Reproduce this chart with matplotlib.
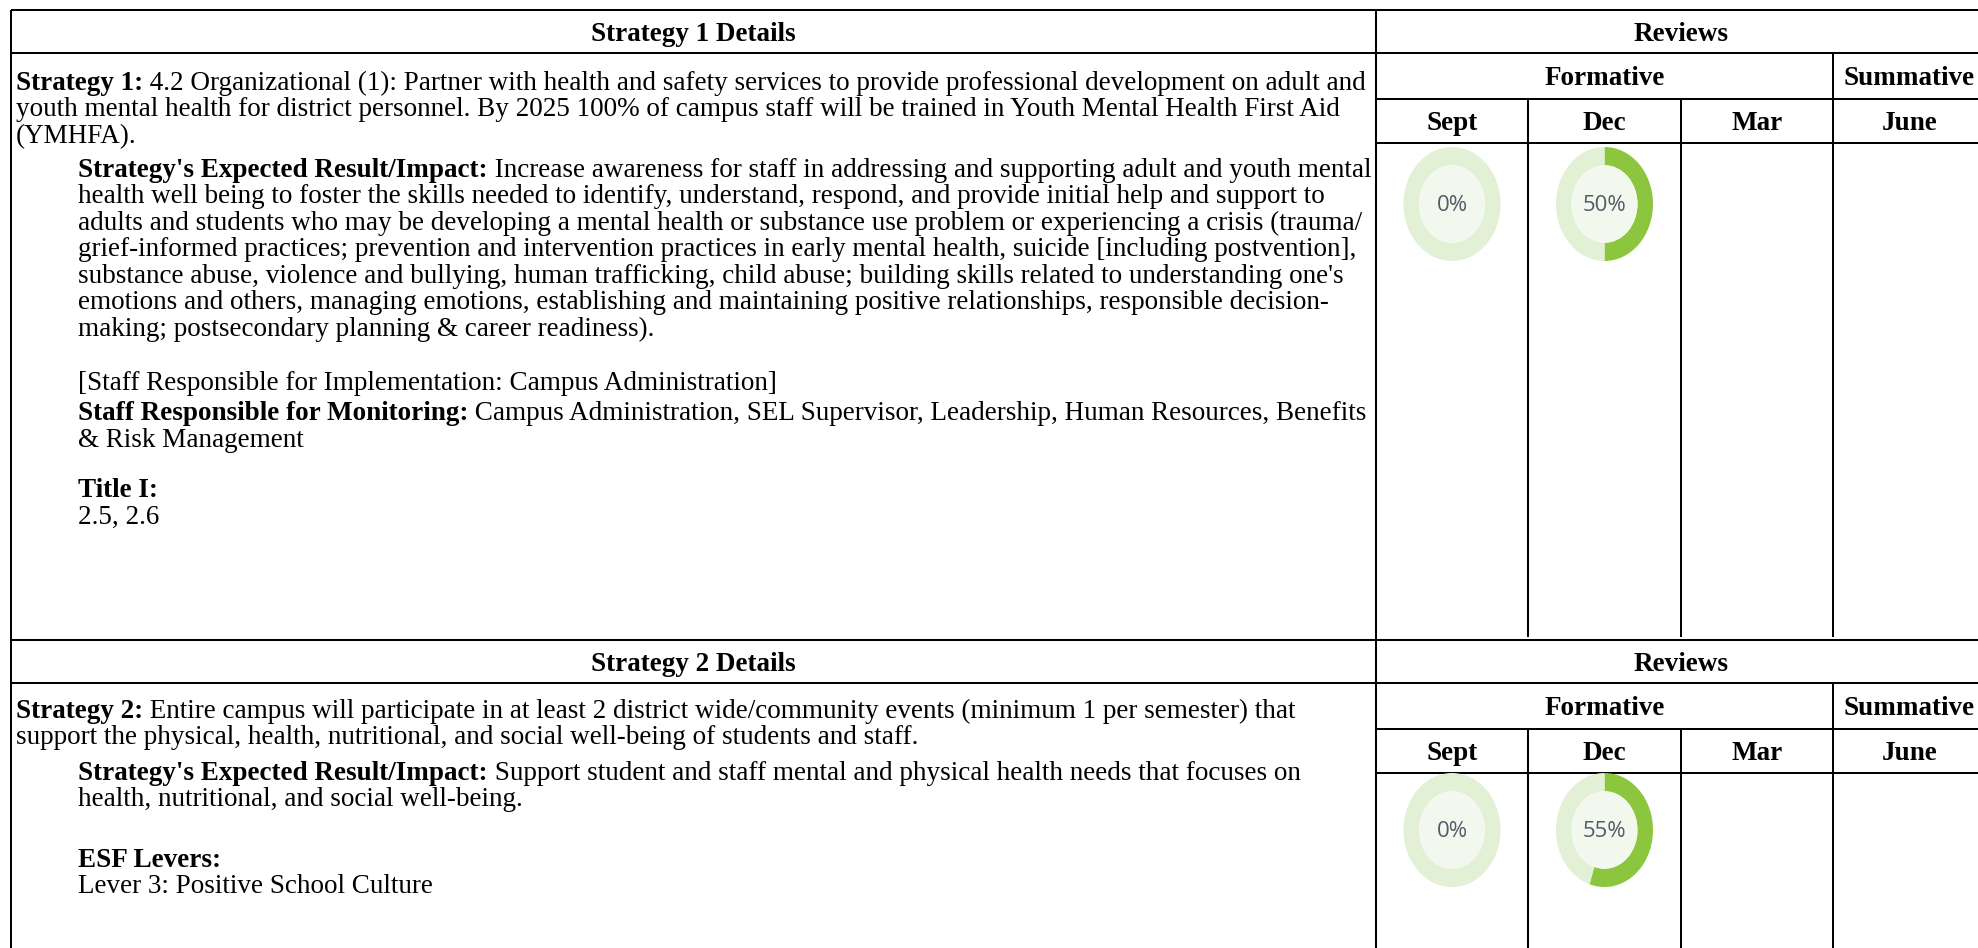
import matplotlib.pyplot as plt
from matplotlib.patches import Circle

plt.rcParams['font.family'] = ['Liberation Serif', 'DejaVu Serif']

# --- data ---
months = ['Sept', 'Dec', 'Mar', 'June']
s1_reviews = [0, 50]      # Sept, Dec (Mar / June empty)
s2_reviews = [0, 55]

s1_lines = [
    (0, [("Strategy 1:", 'bold'), (" 4.2 Organizational (1): Partner with health and safety services to provide professional development on adult and", 'normal')]),
    (0, [("youth mental health for district personnel. By 2025 100% of campus staff will be trained in Youth Mental Health First Aid", 'normal')]),
    (0, [("(YMHFA).", 'normal')]),
    (1, [("Strategy's Expected Result/Impact:", 'bold'), (" Increase awareness for staff in addressing and supporting adult and youth mental", 'normal')]),
    (1, [("health well being to foster the skills needed to identify, understand, respond, and provide initial help and support to", 'normal')]),
    (1, [("adults and students who may be developing a mental health or substance use problem or experiencing a crisis (trauma/", 'normal')]),
    (1, [("grief-informed practices; prevention and intervention practices in early mental health, suicide [including postvention],", 'normal')]),
    (1, [("substance abuse, violence and bullying, human trafficking, child abuse; building skills related to understanding one's", 'normal')]),
    (1, [("emotions and others, managing emotions, establishing and maintaining positive relationships, responsible decision-", 'normal')]),
    (1, [("making; postsecondary planning & career readiness).", 'normal')]),
    (1, [("[Staff Responsible for Implementation: Campus Administration]", 'normal')]),
    (1, [("Staff Responsible for Monitoring:", 'bold'), (" Campus Administration, SEL Supervisor, Leadership, Human Resources, Benefits", 'normal')]),
    (1, [("& Risk Management", 'normal')]),
    (1, [("Title I:", 'bold')]),
    (1, [("2.5, 2.6", 'normal')]),
]
s1_y = [80.7, 107.2, 133.7, 167.8, 194.3, 220.8, 247.3, 273.7, 300.2, 326.7,
        381, 411, 437.7, 488.2, 514.7]

s2_lines = [
    (0, [("Strategy 2:", 'bold'), (" Entire campus will participate in at least 2 district wide/community events (minimum 1 per semester) that", 'normal')]),
    (0, [("support the physical, health, nutritional, and social well-being of students and staff.", 'normal')]),
    (1, [("Strategy's Expected Result/Impact:", 'bold'), (" Support student and staff mental and physical health needs that focuses on", 'normal')]),
    (1, [("health, nutritional, and social well-being.", 'normal')]),
    (1, [("ESF Levers:", 'bold')]),
    (1, [("Lever 3: Positive School Culture", 'normal')]),
]
s2_y = [709, 735.5, 770.8, 797.3, 857.8, 884.3]

# --- layout ---
W, H = 1978, 948
LEFT, DIV, RIGHT = 11, 1376, 1986
COLS = [1376, 1528, 1681, 1833, 1986]
X0, XIND = 16, 78
YOFF = 2.5                      # va='center' sits a bit high for serif text
GREEN, RING, INNER = '#8cc63f', '#e2f0d5', '#f2f8ee'
LW = 1.45

fig = plt.figure(figsize=(W / 100, H / 100), dpi=100)
ax = fig.add_axes([0, 0, 1, 1])
ax.set_xlim(0, W)
ax.set_ylim(H, 0)
ax.axis('off')
renderer = fig.canvas.get_renderer()


def hline(y, x0, x1):
    ax.plot([x0, x1], [y, y], color='black', lw=LW, solid_capstyle='butt')


def vline(x, y0, y1):
    ax.plot([x, x], [y0, y1], color='black', lw=LW, solid_capstyle='butt')


def label(x, y, txt, **kw):
    return ax.text(x, y + YOFF, txt, va='center', fontsize=BODY, **kw)


def put(x, y, parts, size):
    for txt, weight in parts:
        t = ax.text(x, y + YOFF, txt, ha='left', va='center', fontsize=size, fontweight=weight)
        x = t.get_window_extent(renderer).x1
    return x


# fit the body font to the first line width of the reference
end = put(X0, -100, s1_lines[0][1], 16)
for t in list(ax.texts):
    t.remove()
BODY = 16 * (1366 - X0) / (end - X0)


def section(top, bottom, title, lines, ys, reviews, donut_y):
    # header row
    hline(top + 43, LEFT, RIGHT)
    label((LEFT + DIV) / 2, top + 22, title, ha='center', fontweight='bold')
    label((DIV + RIGHT) / 2, top + 22, 'Reviews', ha='center', fontweight='bold')
    # formative / summative row
    hline(top + 89, DIV, RIGHT)
    label((COLS[0] + COLS[3]) / 2, top + 66, 'Formative', ha='center', fontweight='bold')
    label((COLS[3] + COLS[4]) / 2, top + 66, 'Summative', ha='center', fontweight='bold')
    vline(COLS[3], top + 43, bottom)
    # month row
    hline(top + 133, DIV, RIGHT)
    for i, m in enumerate(months):
        label((COLS[i] + COLS[i + 1]) / 2, top + 111, m, ha='center', fontweight='bold')
    for c in COLS[1:3]:
        vline(c, top + 89, bottom)
    # body text
    for (ind, parts), y in zip(lines, ys):
        put(XIND if ind else X0, y, parts, BODY)
    # donuts
    for i, pct in enumerate(reviews):
        cx = (COLS[i] + COLS[i + 1]) / 2
        w, h = 97, 114
        dax = fig.add_axes([(cx - w / 2) / W, 1 - (donut_y + h / 2) / H, w / W, h / H])
        dax.pie([pct, 100 - pct], colors=[GREEN, RING], startangle=90, counterclock=False,
                radius=1, wedgeprops=dict(width=0.32, linewidth=0))
        dax.add_patch(Circle((0, 0), 0.68, color=INNER, lw=0))
        dax.set_aspect('auto')
        dax.set_xlim(-1, 1)
        dax.set_ylim(-1, 1)
        dax.axis('off')
        dax.text(0, -0.02, f"{pct}%", ha='center', va='center', family='Open Sans',
                 fontsize=16, color='#525c68')


# outer frame
hline(10, LEFT, RIGHT)
vline(LEFT, 10, H)
vline(DIV, 10, H)
section(10, 637, 'Strategy 1 Details', s1_lines, s1_y, s1_reviews, 204)
# double separator
hline(640.3, LEFT, RIGHT)
section(640, H, 'Strategy 2 Details', s2_lines, s2_y, s2_reviews, 830)

fig.savefig('out.png', dpi=100)
